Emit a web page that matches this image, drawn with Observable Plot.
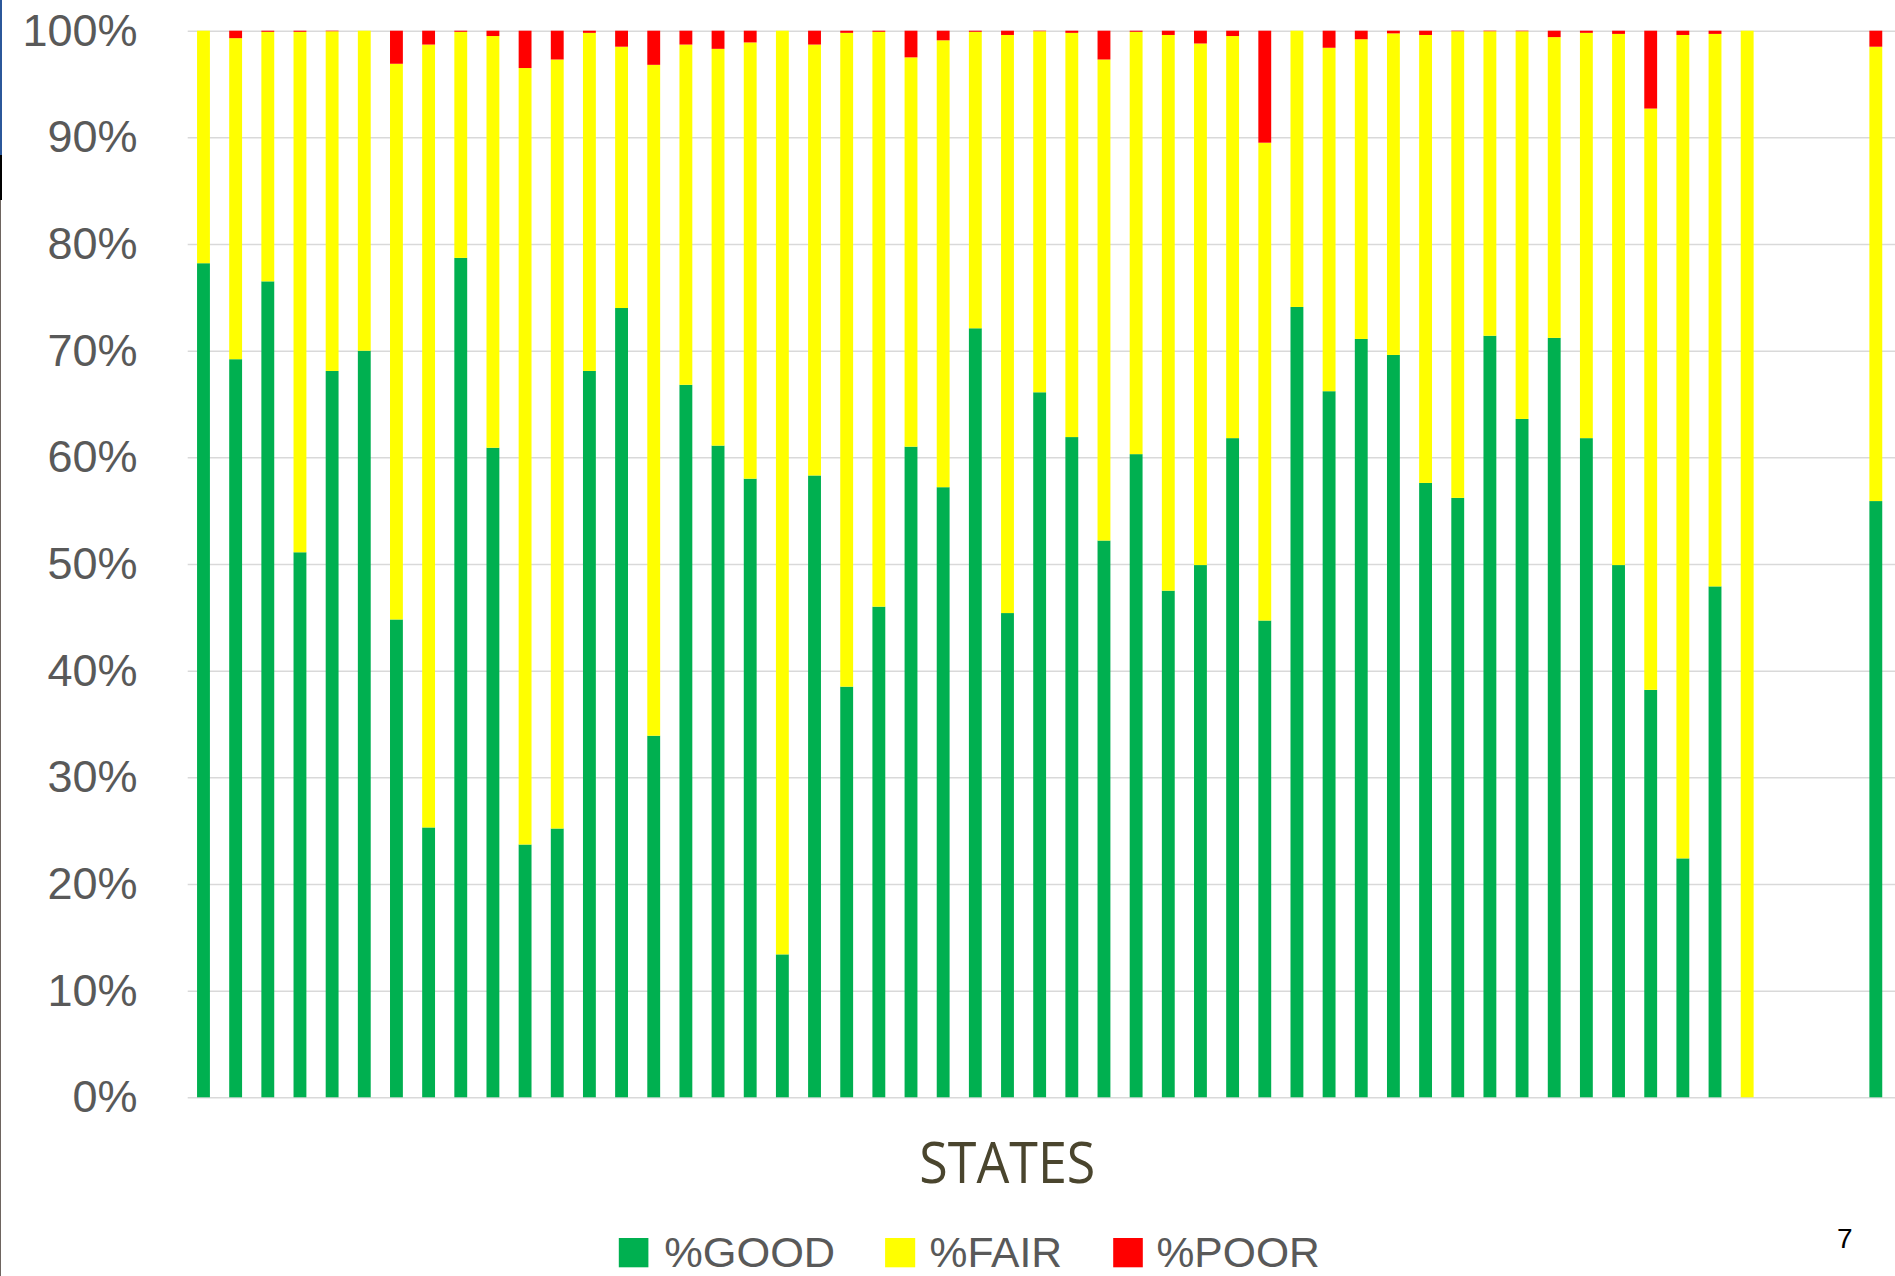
<!DOCTYPE html>
<html>
<head>
<meta charset="utf-8">
<script src="https://cdn.jsdelivr.net/npm/d3@7"></script>
<script src="https://cdn.jsdelivr.net/npm/@observablehq/plot@0.6"></script>
<style>
  html, body { margin: 0; padding: 0; background: #ffffff; }
  #page { position: relative; width: 1895px; height: 1276px; overflow: hidden; background: #ffffff; }
  #page svg { display: block; }
  .edge { position: absolute; left: 0; }
</style>
</head>
<body>
<div id="page"></div>
<script>
// ---- Data ----
const states = [
  "S01","S02","S03","S04","S05","S06","S07","S08","S09","S10",
  "S11","S12","S13","S14","S15","S16","S17","S18","S19","S20",
  "S21","S22","S23","S24","S25","S26","S27","S28","S29","S30",
  "S31","S32","S33","S34","S35","S36","S37","S38","S39","S40",
  "S41","S42","S43","S44","S45","S46","S47","S48","S49","S50",
  "S51","S52","S53"
];
const pctGood = [
  78.2, 69.2, 76.5, 51.1, 68.1, 70.0, 44.8, 25.3, 78.7, 60.9,
  23.7, 25.2, 68.1, 74.0, 33.9, 66.8, 61.1, 58.0, 13.4, 58.3,
  38.5, 46.0, 61.0, 57.2, 72.1, 45.4, 66.1, 61.9, 52.2, 60.3,
  47.5, 49.9, 61.8, 44.7, 74.1, 66.2, 71.1, 69.6, 57.6, 56.2,
  71.4, 63.6, 71.2, 61.8, 49.9, 38.2, 22.4, 47.9, 0, null,
  null, null, 55.9
];
const pctFair = [
  21.8, 30.1, 23.4, 48.8, 31.85, 30.0, 52.1, 73.4, 21.2, 38.6,
  72.8, 72.1, 31.7, 24.5, 62.9, 31.9, 37.2, 40.9, 86.6, 40.4,
  61.3, 53.9, 36.5, 41.9, 27.8, 54.2, 33.85, 37.9, 45.1, 39.6,
  52.1, 48.9, 37.7, 44.8, 25.9, 32.2, 28.1, 30.15, 42.0, 43.75,
  28.55, 36.35, 28.2, 38.0, 49.8, 54.5, 77.2, 51.8, 100, null,
  null, null, 42.6
];
const pctPoor = [
  0, 0.7, 0.1, 0.1, 0.05, 0, 3.1, 1.3, 0.1, 0.5,
  3.5, 2.7, 0.2, 1.5, 3.2, 1.3, 1.7, 1.1, 0, 1.3,
  0.2, 0.1, 2.5, 0.9, 0.1, 0.4, 0.05, 0.2, 2.7, 0.1,
  0.4, 1.2, 0.5, 10.5, 0, 1.6, 0.8, 0.25, 0.4, 0.05,
  0.05, 0.05, 0.6, 0.2, 0.3, 7.3, 0.4, 0.3, 0, null,
  null, null, 1.5
];
const seriesNames = ["%GOOD", "%FAIR", "%POOR"];
const seriesColors = ["#00B050", "#FFFF00", "#FF0000"];
const yTicks = [0, 10, 20, 30, 40, 50, 60, 70, 80, 90, 100];
const xTitle = "STATES";
const pageNumber = "7";

// ---- Build long table ----
const seriesValues = [pctGood, pctFair, pctPoor];
const rows = [];
seriesNames.forEach((name, s) => {
  states.forEach((st, i) => {
    const v = seriesValues[s][i];
    if (v != null) rows.push({state: st, series: name, value: v});
  });
});

const W = 1895;
const H = 1100;
const PAGE_H = 1276;

const chart = Plot.plot({
  width: W,
  height: H,
  marginTop: 30.7,
  marginBottom: 2.7,
  marginLeft: 187.7,
  marginRight: 0,
  style: {
    fontFamily: "'Liberation Sans', Arial, sans-serif",
    fontSize: "45px",
    color: "#595959",
    background: "#ffffff",
    overflow: "visible"
  },
  x: {
    type: "band",
    domain: states,
    range: [187.4, 1891.9],
    paddingInner: 0.6,
    paddingOuter: 0.3,
    round: false,
    axis: null
  },
  y: {
    domain: [0, 100],
    ticks: yTicks,
    tickFormat: d => d + "%",
    tickSize: 0,
    tickPadding: 50.7,
    label: null
  },
  color: {
    domain: seriesNames,
    range: seriesColors
  },
  marks: [
    Plot.gridY(yTicks, {stroke: "#d9d9d9", strokeOpacity: 1, strokeWidth: 1.5}),
    Plot.barY(rows, {
      x: "state",
      y: "value",
      fill: "series",
      order: seriesNames,
      inset: 0
    })
  ]
});

const page = document.getElementById("page");
page.appendChild(chart);

// ---- Axis title, legend, page number (below the plot) ----
const bottom = d3.create("svg")
  .attr("width", W)
  .attr("height", PAGE_H - H)
  .style("overflow", "visible")
  .style("font-family", "'Liberation Sans', Arial, sans-serif");

bottom.append("text")
  .attr("x", 919.3)
  .attr("y", 83.3)
  .attr("font-size", 56)
  .attr("font-family", "'Open Sans', sans-serif")
  .attr("fill", "#4A452E")
  .attr("textLength", 176)
  .attr("lengthAdjust", "spacingAndGlyphs")
  .text(xTitle);

const legendItems = [
  {sx: 618.8, sw: 29.6, tx: 664.2, tw: 171},
  {sx: 885.1, sw: 30.1, tx: 929.5, tw: 132.6},
  {sx: 1113.2, sw: 29.6, tx: 1156.5, tw: 163.3}
];
legendItems.forEach((it, i) => {
  bottom.append("rect")
    .attr("x", it.sx).attr("y", 138)
    .attr("width", it.sw).attr("height", 29.3)
    .attr("fill", seriesColors[i]);
  bottom.append("text")
    .attr("x", it.tx)
    .attr("y", 166.5)
    .attr("font-size", 43)
    .attr("fill", "#595959")
    .attr("textLength", it.tw)
    .attr("lengthAdjust", "spacingAndGlyphs")
    .text(seriesNames[i]);
});

bottom.append("text")
  .attr("x", 1837)
  .attr("y", 148)
  .attr("font-size", 28)
  .attr("fill", "#000000")
  .text(pageNumber);

page.appendChild(bottom.node());

// ---- slide edge artefacts ----
const edges = [
  {top: 0, h: 155, w: 2, c: "#2B579A"},
  {top: 155, h: 45, w: 2, c: "#000000"},
  {top: 200, h: 1076, w: 1, c: "#6E6560"}
];
edges.forEach(e => {
  const d = document.createElement("div");
  d.className = "edge";
  d.style.top = e.top + "px";
  d.style.height = e.h + "px";
  d.style.width = e.w + "px";
  d.style.background = e.c;
  page.appendChild(d);
});
</script>
</body>
</html>
